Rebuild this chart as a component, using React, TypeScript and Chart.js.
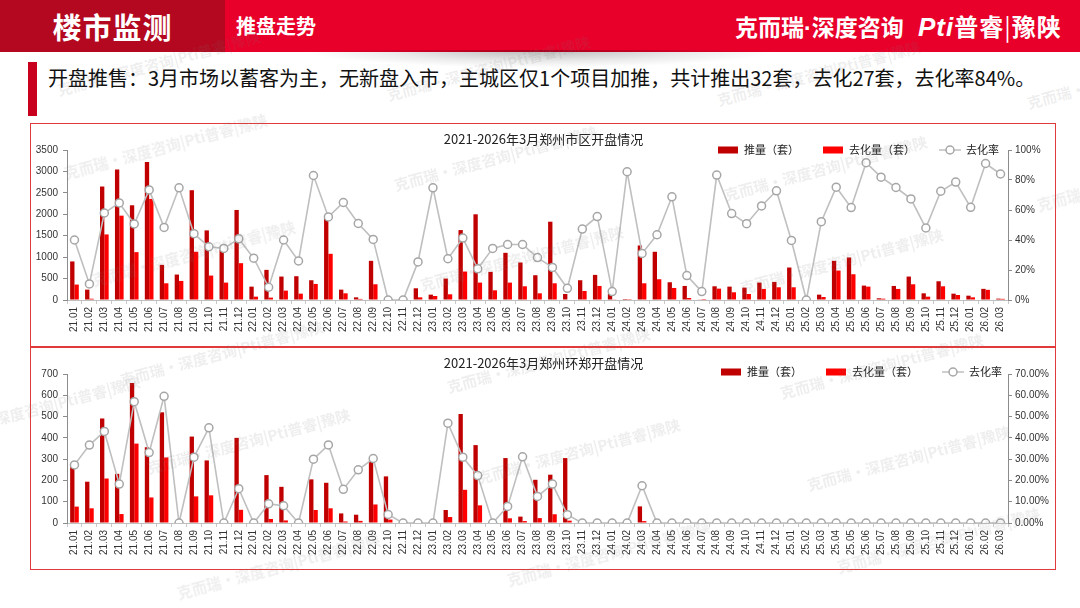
import React, { useEffect, useRef } from 'react';
import { Chart, registerables } from 'chart.js';

Chart.register(...registerables);

const categories = [
  '21.01','21.02','21.03','21.04','21.05','21.06','21.07','21.08','21.09','21.10','21.11','21.12',
  '22.01','22.02','22.03','22.04','22.05','22.06','22.07','22.08','22.09','22.10','22.11','22.12',
  '23.01','23.02','23.03','23.04','23.05','23.06','23.07','23.08','23.09','23.10','23.11','23.12',
  '24.01','24.02','24.03','24.04','24.05','24.06','24.07','24.08','24.09','24.10','24.11','24.12',
  '25.01','25.02','25.03','25.04','25.05','25.06','25.07','25.08','25.09','25.10','25.11','25.12',
  '26.01','26.02','26.03',
];

// 郑州市区
const cityPush = [
  900, 242, 2648, 3046, 2210, 3218, 820, 594, 2562, 1624, 1171, 2101,
  312, 703, 547, 555, 461, 1921, 242, 62, 914, 0, 0, 273,
  125, 500, 1632, 2000, 656, 1101, 875, 578, 1827, 140, 461, 586,
  140, 23, 1273, 1125, 414, 328, 15, 320, 312, 289, 406, 422,
  758, 0, 125, 914, 992, 336, 40, 328, 547, 156, 437, 148,
  101, 260, 32,
];
const citySold = [
  360, 30, 1530, 1968, 1117, 2359, 390, 445, 1125, 570, 406, 859,
  78, 55, 219, 148, 375, 1078, 156, 25, 367, 0, 0, 62,
  94, 133, 664, 406, 226, 406, 320, 156, 390, 11, 211, 328,
  8, 20, 390, 484, 281, 47, 1, 265, 180, 140, 258, 297,
  297, 0, 70, 687, 601, 312, 31, 258, 367, 78, 320, 117,
  62, 237, 27,
];
const cityRate = [
  40, 10.7, 58, 64.7, 50.7, 73.4, 48.4, 74.8, 44.2, 35.5, 34.4, 40.8,
  27.9, 8.5, 40, 26, 83, 55.4, 65, 51, 40.4, 0, 0, 25.4,
  74.8, 27.5, 41.3, 20.8, 34.4, 37, 37, 28.3, 21.7, 7.8, 47.3, 55.6,
  5.6, 85.5, 31, 43.5, 68.8, 16.3, 5.6, 83.3, 57.6, 50.9, 62.7, 72.8,
  39.7, 0, 52.2, 75.2, 61.6, 91.5, 81.9, 75, 67.4, 48, 72.5, 78.6,
  61.8, 91, 84,
];

// 郑州环郑
const ringPush = [
  262, 194, 491, 231, 658, 356, 520, 0, 406, 294, 0, 400,
  0, 225, 170, 0, 205, 189, 45, 39, 294, 219, 0, 0,
  0, 61, 512, 366, 0, 305, 30, 203, 227, 305, 0, 0,
  0, 0, 78, 0, 0, 0, 0, 0, 0, 0, 0, 0,
  0, 0, 0, 0, 0, 0, 0, 0, 0, 0, 0, 0,
  0, 0, 0,
];
const ringSold = [
  77, 69, 209, 42, 373, 120, 308, 0, 125, 130, 0, 62,
  0, 19, 12, 0, 61, 69, 7, 10, 87, 16, 0, 0,
  0, 28, 156, 83, 0, 22, 9, 23, 41, 11, 0, 0,
  0, 0, 9, 0, 0, 0, 0, 0, 0, 0, 0, 0,
  0, 0, 0, 0, 0, 0, 0, 0, 0, 0, 0, 0,
  0, 0, 0,
];
const ringRate = [
  27.3, 36.6, 43, 18.3, 57, 33.1, 59.5, 0, 30.9, 44.7, 0, 16.1,
  0, 9, 8.1, 0, 30, 36.7, 15.8, 25, 30.3, 4, 0, 0,
  0, 46.9, 30.9, 22.3, 0, 7.8, 31.1, 12.5, 18.3, 3.9, 0, 0,
  0, 0, 17.5, 0, 0, 0, 0, 0, 0, 0, 0, 0,
  0, 0, 0, 0, 0, 0, 0, 0, 0, 0, 0, 0,
  0, 0, 0,
];

const FONT = "'Liberation Sans', 'Noto Sans CJK SC', sans-serif";
const CJK = "'Noto Sans CJK SC', 'Liberation Sans', sans-serif";
const PUSH_COLOR = '#C00000';
const SOLD_COLOR = '#FF0000';
const LINE_COLOR = '#BFBFBF';
const POINT_BORDER = '#A6A6A6';
const AXIS_COLOR = '#8C8C8C';

const overlayPlugin = {
  id: 'overlay',
  afterDraw(chart: any, _args: any, opts: any) {
    const ctx = chart.ctx;
    ctx.save();
    ctx.fillStyle = '#222';
    ctx.font = `13px ${CJK}`;
    ctx.textAlign = 'center';
    ctx.textBaseline = 'middle';
    ctx.fillText(opts.title, chart.width / 2 + (opts.titleDx || 0), opts.titleY);

    const ds = chart.data.datasets;
    const x0 = opts.legendX;
    const y = opts.legendY;
    ctx.font = `11px ${CJK}`;
    ctx.textAlign = 'left';
    ctx.fillStyle = PUSH_COLOR;
    ctx.fillRect(x0, y - 3.5, 20, 7);
    ctx.fillStyle = '#222';
    ctx.fillText(ds[1].label, x0 + 26, y);
    ctx.fillStyle = SOLD_COLOR;
    ctx.fillRect(x0 + 105, y - 3.5, 20, 7);
    ctx.fillStyle = '#222';
    ctx.fillText(ds[2].label, x0 + 131, y);
    ctx.strokeStyle = LINE_COLOR;
    ctx.lineWidth = 1.5;
    ctx.beginPath();
    ctx.moveTo(x0 + 221, y);
    ctx.lineTo(x0 + 243, y);
    ctx.stroke();
    ctx.beginPath();
    ctx.arc(x0 + 232, y, 4, 0, Math.PI * 2);
    ctx.fillStyle = '#fff';
    ctx.fill();
    ctx.strokeStyle = POINT_BORDER;
    ctx.stroke();
    ctx.fillStyle = '#222';
    ctx.fillText(ds[0].label, x0 + 248, y);
    ctx.restore();
  },
};

type Cfg = {
  title: string;
  push: number[];
  sold: number[];
  rate: number[];
  leftMax: number;
  leftStep: number;
  rightMax: number;
  rightStep: number;
  rightFmt: (v: number) => string;
  padTop: number;
  xHeight: number;
  titleY: number;
  legendX: number;
  legendY: number;
};

function buildConfig(c: Cfg): any {
  return {
    type: 'bar',
    data: {
      labels: categories,
      datasets: [
        {
          type: 'line',
          label: '去化率',
          data: c.rate,
          yAxisID: 'y1',
          borderColor: LINE_COLOR,
          borderWidth: 1.6,
          pointRadius: 4,
          pointBackgroundColor: '#fff',
          pointBorderColor: POINT_BORDER,
          pointBorderWidth: 1.5,
          tension: 0,
          order: 0,
        },
        {
          type: 'bar',
          label: '推量（套）',
          data: c.push,
          yAxisID: 'y',
          backgroundColor: PUSH_COLOR,
          order: 1,
          barPercentage: 1,
          categoryPercentage: 0.58,
        },
        {
          type: 'bar',
          label: '去化量（套）',
          data: c.sold,
          yAxisID: 'y',
          backgroundColor: SOLD_COLOR,
          order: 1,
          barPercentage: 1,
          categoryPercentage: 0.58,
        },
      ],
    },
    options: {
      animation: false,
      responsive: false,
      maintainAspectRatio: false,
      layout: { padding: { top: c.padTop, bottom: 6, left: 0, right: 6 } },
      plugins: {
        legend: { display: false },
        tooltip: { enabled: false },
        title: { display: false },
        overlay: { title: c.title, titleY: c.titleY, legendX: c.legendX, legendY: c.legendY },
      },
      scales: {
        x: {
          type: 'category',
          offset: true,
          grid: {
            offset: true,
            drawOnChartArea: false,
            drawTicks: true,
            tickLength: 4,
            color: '#C8C8C8',
          },
          border: { color: '#BFBFBF', width: 1 },
          ticks: {
            autoSkip: false,
            minRotation: 90,
            maxRotation: 90,
            padding: 3,
            color: '#333',
            font: { family: FONT, size: 10 },
          },
          afterFit: (s: any) => {
            s.height = c.xHeight;
          },
        },
        y: {
          position: 'left',
          min: 0,
          max: c.leftMax,
          grid: { drawOnChartArea: false, drawTicks: true, tickLength: 4, color: AXIS_COLOR },
          border: { color: AXIS_COLOR, width: 1 },
          ticks: {
            stepSize: c.leftStep,
            padding: 5,
            color: '#333',
            font: { family: FONT, size: 10 },
            callback: (v: any) => String(v),
          },
          afterFit: (s: any) => {
            s.width = 36;
          },
        },
        y1: {
          position: 'right',
          min: 0,
          max: c.rightMax,
          grid: { drawOnChartArea: false, drawTicks: true, tickLength: 4, color: AXIS_COLOR },
          border: { color: AXIS_COLOR, width: 1 },
          ticks: {
            stepSize: c.rightStep,
            padding: 3,
            color: '#333',
            font: { family: FONT, size: 10 },
            callback: (v: any) => c.rightFmt(Number(v)),
          },
          afterFit: (s: any) => {
            s.width = 42;
          },
        },
      },
    },
    plugins: [overlayPlugin],
  };
}

function ComboChart({ cfg, style, width, height }: { cfg: Cfg; style: React.CSSProperties; width: number; height: number }) {
  const ref = useRef<HTMLCanvasElement | null>(null);
  useEffect(() => {
    if (!ref.current) return;
    const chart = new Chart(ref.current, buildConfig(cfg));
    return () => chart.destroy();
  }, []);
  return <canvas ref={ref} width={width} height={height} style={{ position: 'absolute', width, height, ...style }} />;
}

const topCfg: Cfg = {
  title: '2021-2026年3月郑州市区开盘情况',
  push: cityPush,
  sold: citySold,
  rate: cityRate,
  leftMax: 3500,
  leftStep: 500,
  rightMax: 100,
  rightStep: 20,
  rightFmt: (v) => `${v}%`,
  padTop: 26,
  xHeight: 40,
  titleY: 15,
  legendX: 687,
  legendY: 26,
};

const bottomCfg: Cfg = {
  title: '2021-2026年3月郑州环郑开盘情况',
  push: ringPush,
  sold: ringSold,
  rate: ringRate,
  leftMax: 700,
  leftStep: 100,
  rightMax: 70,
  rightStep: 10,
  rightFmt: (v) => `${v.toFixed(2)}%`,
  padTop: 27,
  xHeight: 41,
  titleY: 16,
  legendX: 690,
  legendY: 25,
};

const WM = '克而瑞·深度咨询|Pti普睿|豫陕';
const watermarks: [number, number][] = [
  [60, 95], [390, 100], [720, 105], [1030, 108],
  [67, 178], [397, 190], [727, 200],
  [95, 285], [423, 290], [743, 293], [1040, 210],
  [123, 385], [450, 392], [783, 398],
  [150, 473], [480, 483], [810, 490], [-60, 440],
  [180, 598], [510, 585], [840, 572],
];

export default function App() {
  return (
    <div
      style={{
        position: 'fixed',
        left: 0,
        top: 0,
        width: 1080,
        height: 608,
        background: '#fff',
        overflow: 'hidden',
        fontFamily: CJK,
      }}
    >
      {/* header */}
      <div style={{ position: 'absolute', left: 0, top: 0, width: 1080, height: 52, background: '#E8002A' }} />
      <div style={{ position: 'absolute', left: 0, top: 0, width: 225, height: 52, background: '#B3081F' }} />
      <div
        style={{
          position: 'absolute',
          left: 300,
          top: 50,
          width: 480,
          height: 18,
          background: 'radial-gradient(ellipse at 50% 0%, rgba(0,0,0,0.28) 0%, rgba(0,0,0,0.08) 45%, rgba(0,0,0,0) 70%)',
        }}
      />
      <div
        style={{
          position: 'absolute',
          left: 0,
          top: 0,
          width: 225,
          height: 52,
          lineHeight: '52px',
          textAlign: 'center',
          color: '#fff',
          fontSize: 29,
          fontWeight: 700,
          letterSpacing: 1,
        }}
      >
        楼市监测
      </div>
      <div
        style={{
          position: 'absolute',
          left: 236,
          top: 0,
          height: 52,
          lineHeight: '52px',
          color: '#fff',
          fontSize: 20,
          fontWeight: 700,
        }}
      >
        推盘走势
      </div>
      <div
        style={{
          position: 'absolute',
          left: 735,
          top: 0,
          height: 52,
          lineHeight: '52px',
          color: '#fff',
          fontSize: 23,
          fontWeight: 700,
          whiteSpace: 'nowrap',
        }}
      >
        克而瑞<span style={{ fontFamily: "'Liberation Sans', sans-serif" }}>·</span>深度咨询
      </div>
      <div
        style={{
          position: 'absolute',
          left: 918,
          top: 0,
          height: 52,
          lineHeight: '52px',
          color: '#fff',
          fontSize: 24,
          fontWeight: 700,
          letterSpacing: 1,
          whiteSpace: 'nowrap',
        }}
      >
        <span style={{ fontStyle: 'italic', fontFamily: FONT, fontWeight: 900, fontSize: 26 }}>Pti</span>普睿<span style={{ fontWeight: 400 }}>|</span>豫陕
      </div>

      {/* intro line */}
      <div style={{ position: 'absolute', left: 28, top: 62, width: 9, height: 54, background: '#C8001E' }} />
      <div
        style={{
          position: 'absolute',
          left: 48,
          top: 64,
          fontSize: 20,
          lineHeight: '28px',
          color: '#111',
          whiteSpace: 'nowrap',
        }}
      >
        开盘推售：3月市场以蓄客为主，无新盘入市，主城区仅1个项目加推，共计推出32套，去化27套，去化率84%。
      </div>

      {/* panels */}
      <div
        style={{
          position: 'absolute',
          left: 30,
          top: 123,
          width: 1026,
          height: 447,
          border: '1.5px solid #E23A3A',
          boxSizing: 'border-box',
        }}
      />
      <div style={{ position: 'absolute', left: 30, top: 346, width: 1026, height: 1.5, background: '#E23A3A' }} />

      <ComboChart cfg={topCfg} width={1025} height={222} style={{ left: 31, top: 124 }} />
      <ComboChart cfg={bottomCfg} width={1025} height={223} style={{ left: 31, top: 347 }} />

      {/* watermarks */}
      {watermarks.map(([x, y], i) => (
        <div
          key={i}
          style={{
            position: 'absolute',
            left: x,
            top: y - 16,
            fontSize: 15,
            fontWeight: 700,
            color: 'rgba(120,120,120,0.13)',
            whiteSpace: 'nowrap',
            transform: 'rotate(-15deg)',
            transformOrigin: 'left bottom',
            pointerEvents: 'none',
          }}
        >
          {WM}
        </div>
      ))}
    </div>
  );
}
